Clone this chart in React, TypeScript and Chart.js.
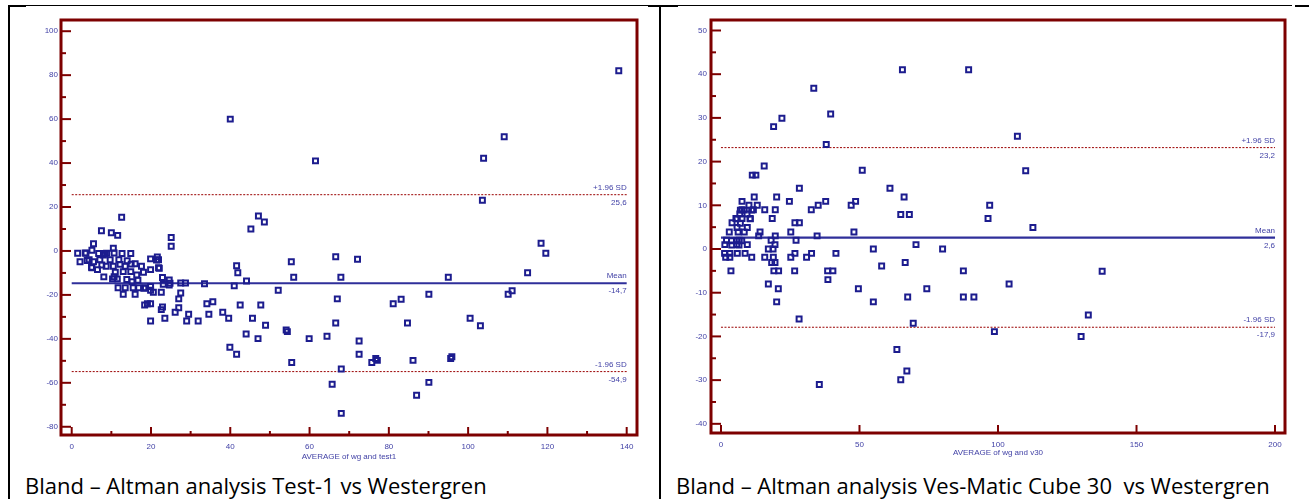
import React, { useEffect, useRef } from "react";
import { Chart, registerables } from "chart.js";

Chart.register(...registerables);

// ---------- DATA: Test-1 vs Westergren (average, difference) ----------
const LEFT_POINTS: number[][] = [
  [40, 60], [61.5, 41], [138, 82], [109.1, 52], [103.9, 42.2], [103.6, 23.1], [118.4, 3.5],
  [119.6, -1.0], [115, -9.9], [110.1, -19.7], [111.1, -18.1], [100.5, -30.6], [103.1, -34.0],
  [95, -12], [95.6, -48.9], [95.9, -48.1], [90.1, -19.7], [90.1, -59.8], [87, -65.7], [86.1, -49.8],
  [84.7, -32.8], [83.1, -22.0], [81.1, -24.0], [77.1, -49.8], [76.7, -48.9], [75.7, -50.8],
  [72.5, -47.0], [72.5, -41.0], [72.1, -3.8], [68.0, -73.9], [68.0, -53.7], [67.9, -12.0],
  [67.0, -21.8], [66.6, -32.8], [66.6, -2.6], [65.7, -60.7], [64.4, -38.8], [59.9, -39.9],
  [56.0, -12.0], [55.4, -4.9], [55.5, -50.8], [54.1, -36.0], [54.4, -36.7], [52.1, -17.9],
  [48.9, -33.8], [47.7, -24.6], [47.0, -39.9], [47.1, 15.9], [48.6, 13.2], [45.2, 10.0],
  [45.6, -30.6], [44.1, -13.7], [44.0, -37.8], [42.5, -24.6], [41.9, -9.9], [41.6, -6.7],
  [41.0, -15.9], [41.6, -47.0], [39.9, -43.8], [39.6, -30.6], [38.1, -27.9], [35.6, -23.1],
  [34.6, -28.8], [34.1, -24.0], [33.5, -14.9], [31.9, -31.9], [29.5, -28.8], [29.0, -31.9],
  [28.7, -14.6], [27.5, -14.6], [27.5, -19.1], [27.0, -21.8], [27.0, -25.8], [26.1, -27.9],
  [25.1, 6.1], [25.1, 2.1], [24.8, -14.7], [24.6, -13.2], [24.6, -15.5], [23.5, -30.6],
  [23.1, -15.2], [22.9, -12.1], [22.9, -25.5], [22.6, -26.7], [22.6, -18.8], [22.1, -7.9],
  [21.9, -4.0], [21.6, -2.7], [21.9, -7.6], [21.4, -4.1], [20.6, -18.8], [19.9, -31.9],
  [19.9, -24.0], [19.1, -24.0], [18.4, -24.6], [19.9, -17.9], [19.9, -3.6], [19.9, -8.5],
  [19.9, -16.2], [18.6, -16.7], [18.2, -17.0], [18.1, -9.7], [17.6, -7.0], [16.9, -16.7],
  [16.7, -13.3], [16.4, -10.9], [16.0, -5.8], [16.0, -19.7], [15.5, -16.7], [15.2, -14.0],
  [14.9, -9.4], [14.9, -1.2], [13.9, -13.0], [13.5, -16.7], [13.5, -7.0], [13.0, -9.4],
  [13.0, -19.7], [12.7, -1.2], [12.6, 15.3], [12.2, -6.1], [11.9, -4.0], [11.7, -16.7],
  [11.6, 7.1], [11.5, -12.7], [11.0, -9.7], [10.7, -0.9], [10.7, -11.7], [10.5, 1.2],
  [10.5, -7.0], [10.3, -12.7], [10.0, 8.3], [9.7, -4.0], [8.8, -1.0], [8.7, -7.0],
  [8.3, -1.2], [8.1, -11.8], [8.0, -1.8], [7.6, -6.4], [7.5, 9.2], [7.1, -4.0], [6.8, -1.2],
  [6.5, -8.5], [5.5, -4.9], [5.5, 3.3], [5.1, 0.3], [5.1, -7.6], [5.0, -7.4], [4.4, -4.0],
  [3.9, -4.3], [3.6, -1.0], [3.4, -0.9], [2.1, -4.9], [1.5, -1.0], [14.0, -4.5], [15.0, -6.0],
];
const LEFT_X_TICKS = [0, 20, 40, 60, 80, 100, 120, 140];
const LEFT_X_MINOR = [10, 30, 50, 70, 90, 110, 130];
const LEFT_Y_TICKS = [-80, -60, -40, -20, 0, 20, 40, 60, 80, 100];
const LEFT_Y_MINOR = [-70, -50, -30, -10, 10, 30, 50, 70, 90];
const LEFT_STATS = [-14.7, 25.6, -54.9]; // mean, +1.96 SD, -1.96 SD

// ---------- DATA: Ves-Matic Cube 30 vs Westergren ----------
const RIGHT_POINTS: number[][] = [
  [65.5, 41], [89.4, 41], [33.5, 36.8], [39.6, 30.9], [22.0, 29.9], [19.0, 28.0], [38.0, 23.9],
  [107.0, 25.8], [110.0, 17.9], [15.6, 19.0], [11.3, 16.9], [12.6, 16.9], [51.0, 18.0],
  [28.3, 13.9], [61.0, 13.9], [66.1, 11.9], [12.0, 11.9], [20.1, 11.9], [7.6, 10.9], [24.7, 10.9],
  [37.8, 10.9], [47.0, 10.0], [48.6, 10.9], [10.1, 10.0], [13.1, 10.0], [32.6, 9.0], [35.1, 10.0],
  [15.8, 9.0], [19.6, 9.0], [11.7, 9.0], [7.6, 9.0], [7.0, 8.9], [8.4, 8.9], [11.1, 8.9],
  [6.8, 8.0], [9.4, 8.0], [64.9, 7.9], [68.0, 7.9], [97.0, 10.0], [96.4, 7.0], [18.5, 7.0],
  [10.5, 7.0], [7.6, 7.0], [5.4, 7.0], [5.8, 6.9], [10.6, 6.9], [4.0, 6.0], [7.0, 5.9],
  [26.7, 6.0], [28.3, 6.0], [9.5, 4.9], [5.8, 4.9], [112.6, 4.9], [3.0, 3.9], [6.2, 3.9],
  [8.4, 3.9], [14.1, 3.9], [25.2, 3.9], [48.0, 3.9], [13.6, 3.0], [19.6, 3.0], [34.7, 3.0],
  [2.0, 2.0], [6.6, 2.0], [18.1, 2.0], [27.1, 2.0], [3.8, 1.9], [5.8, 1.9], [7.5, 1.9],
  [70.4, 1.0], [1.4, 1.0], [5.7, 1.0], [9.5, 1.0], [19.5, 1.0], [3.9, 0.9], [6.5, 0.9],
  [17.1, 0.0], [55.0, 0.0], [80.0, 0.0], [18.8, 0.0], [1.3, -1.0], [3.2, -1.0], [5.9, -1.0],
  [8.7, -1.0], [26.7, -1.0], [32.7, -1.0], [41.5, -1.0], [1.7, -1.9], [3.2, -1.9], [11.1, -1.9],
  [15.8, -1.9], [18.9, -1.9], [25.2, -1.9], [30.9, -1.9], [18.3, -3.1], [19.5, -3.1],
  [19.1, -5.0], [20.8, -5.0], [3.6, -5.0], [26.6, -5.0], [38.5, -5.0], [40.4, -5.0], [38.6, -7.0],
  [17.1, -8.0], [20.7, -9.1], [20.1, -12.1], [28.2, -16.0], [35.5, -31.0], [58.0, -3.9],
  [49.6, -9.1], [55.0, -12.1], [66.5, -3.1], [67.4, -11.0], [69.4, -17.0], [63.5, -23.0],
  [64.9, -29.9], [67.1, -27.9], [74.3, -9.1], [87.5, -5.0], [87.5, -11.0], [91.3, -11.0],
  [104.0, -8.0], [137.6, -5.1], [132.6, -15.1], [130.0, -20.0], [98.7, -18.9],
];
const RIGHT_X_TICKS = [0, 50, 100, 150, 200];
const RIGHT_X_MINOR: number[] = [];
const RIGHT_Y_TICKS = [-40, -30, -20, -10, 0, 10, 20, 30, 40, 50];
const RIGHT_Y_MINOR = [-35, -25, -15, -5, 5, 15, 25, 35, 45];
const RIGHT_STATS = [2.6, 23.2, -17.9]; // mean, +1.96 SD, -1.96 SD

// ---------- STYLE ----------
const TICK_COLOR = "#4242a6";
const FRAME_COLOR = "#7d0000";
const POINT_COLOR = "#1c1c8e";
const MEAN_COLOR = "#2f2f9a";
const SD_COLOR = "#9a0000";
const SMALL_FONT = "'Liberation Sans', Arial, sans-serif";

type Spec = {
  points: number[][];
  xMin: number; xMax: number; yMin: number; yMax: number;
  xTicks: number[]; xMinor: number[]; yTicks: number[]; yMinor: number[];
  stats: number[];
  lineEnd: number;
  xTitle: string;
  yAxisWidth: number; xAxisHeight: number; padRight: number; padTop: number;
  titlePadBottom: number; yLabelPad: number; xLabelPad: number;
};

const fmt = (v: number) => String(v).replace(".", ",");

const decorPlugin = {
  id: "baDecor",
  afterDraw(chart: any, _args: any, opts: any) {
    const spec: Spec = opts.spec;
    const { ctx, chartArea: a, scales } = chart;
    const xs = scales.x;
    const ys = scales.y;
    ctx.save();
    // ticks (inward)
    ctx.strokeStyle = FRAME_COLOR;
    ctx.lineWidth = 2;
    const hline = (x0: number, x1: number, y: number) => {
      ctx.beginPath(); ctx.moveTo(x0, y); ctx.lineTo(x1, y); ctx.stroke();
    };
    const vline = (x: number, y0: number, y1: number) => {
      ctx.beginPath(); ctx.moveTo(x, y0); ctx.lineTo(x, y1); ctx.stroke();
    };
    spec.yTicks.forEach((v) => hline(a.left, a.left + 10, ys.getPixelForValue(v)));
    spec.yMinor.forEach((v) => hline(a.left, a.left + 5, ys.getPixelForValue(v)));
    spec.xTicks.forEach((v) => vline(xs.getPixelForValue(v), a.bottom, a.bottom - 8));
    spec.xMinor.forEach((v) => vline(xs.getPixelForValue(v), a.bottom, a.bottom - 4));
    // frame
    ctx.lineWidth = 3;
    ctx.strokeRect(a.left, a.top, a.right - a.left, a.bottom - a.top);
    // line labels
    ctx.font = `8px ${SMALL_FONT}`;
    ctx.fillStyle = TICK_COLOR;
    ctx.textAlign = "right";
    ctx.textBaseline = "middle";
    const xr = xs.getPixelForValue(spec.lineEnd);
    const [mean, up, lo] = spec.stats;
    const items: [number, string, string][] = [
      [mean, "Mean", fmt(mean)],
      [up, "+1.96 SD", fmt(up)],
      [lo, "-1.96 SD", fmt(lo)],
    ];
    items.forEach(([v, t, b]) => {
      const y = ys.getPixelForValue(v);
      ctx.fillText(t, xr, y - 7);
      ctx.fillText(b, xr, y + 8);
    });
    ctx.restore();
  },
};

function makeConfig(spec: Spec): any {
  const [mean, up, lo] = spec.stats;
  const line = (v: number, color: string, width: number, dash: number[]) => ({
    data: [{ x: 0, y: v }, { x: spec.lineEnd, y: v }],
    showLine: true,
    borderColor: color,
    borderWidth: width,
    borderDash: dash,
    pointRadius: 0,
    pointHoverRadius: 0,
    fill: false,
  });
  return {
    type: "scatter",
    data: {
      datasets: [
        {
          data: spec.points.map(([x, y]) => ({ x, y })),
          pointStyle: "rect",
          pointRadius: 3.5,
          pointHoverRadius: 3.5,
          borderWidth: 2,
          borderColor: POINT_COLOR,
          backgroundColor: "rgba(0,0,0,0)",
        },
        line(mean, MEAN_COLOR, 2.2, []),
        line(up, SD_COLOR, 1, [2, 1.5]),
        line(lo, SD_COLOR, 1, [2, 1.5]),
      ],
    },
    options: {
      animation: false,
      responsive: false,
      maintainAspectRatio: false,
      devicePixelRatio: 1,
      events: [],
      layout: { padding: { left: 0, top: spec.padTop, right: spec.padRight, bottom: 0 } },
      plugins: {
        legend: { display: false },
        tooltip: { enabled: false },
        baDecor: { spec },
      },
      scales: {
        x: {
          type: "linear",
          min: spec.xMin,
          max: spec.xMax,
          grid: { display: false, drawTicks: false },
          border: { display: false },
          afterBuildTicks: (s: any) => { s.ticks = spec.xTicks.map((v) => ({ value: v })); },
          afterFit: (s: any) => { s.height = spec.xAxisHeight; s.paddingLeft = 0; s.paddingRight = 0; },
          ticks: {
            autoSkip: false,
            maxRotation: 0,
            padding: spec.xLabelPad,
            color: TICK_COLOR,
            font: { family: SMALL_FONT, size: 8 },
            callback: (v: any) => String(v),
          },
          title: {
            display: true,
            text: spec.xTitle,
            color: TICK_COLOR,
            font: { family: SMALL_FONT, size: 8 },
            padding: { top: 0, bottom: spec.titlePadBottom },
          },
        },
        y: {
          type: "linear",
          min: spec.yMin,
          max: spec.yMax,
          grid: { display: false, drawTicks: false },
          border: { display: false },
          afterBuildTicks: (s: any) => { s.ticks = spec.yTicks.map((v) => ({ value: v })); },
          afterFit: (s: any) => { s.width = spec.yAxisWidth; s.paddingTop = 0; s.paddingBottom = 0; },
          ticks: {
            autoSkip: false,
            padding: spec.yLabelPad,
            color: TICK_COLOR,
            font: { family: SMALL_FONT, size: 8 },
            callback: (v: any) => String(v),
          },
        },
      },
    },
    plugins: [decorPlugin],
  };
}

const LEFT_SPEC: Spec = {
  points: LEFT_POINTS,
  xMin: -2.7, xMax: 142.6, yMin: -83.75, yMax: 105.1,
  xTicks: LEFT_X_TICKS, xMinor: LEFT_X_MINOR, yTicks: LEFT_Y_TICKS, yMinor: LEFT_Y_MINOR,
  stats: LEFT_STATS,
  lineEnd: 140,
  xTitle: "AVERAGE of wg and test1",
  yAxisWidth: 61, xAxisHeight: 35, padRight: 18, padTop: 20,
  titlePadBottom: 8, yLabelPad: 3, xLabelPad: 7,
};

const RIGHT_SPEC: Spec = {
  points: RIGHT_POINTS,
  xMin: -3.6, xMax: 203.6, yMin: -42.1, yMax: 52.4,
  xTicks: RIGHT_X_TICKS, xMinor: RIGHT_X_MINOR, yTicks: RIGHT_Y_TICKS, yMinor: RIGHT_Y_MINOR,
  stats: RIGHT_STATS,
  lineEnd: 200,
  xTitle: "AVERAGE of wg and v30",
  yAxisWidth: 49, xAxisHeight: 37, padRight: 24, padTop: 20,
  titlePadBottom: 12, yLabelPad: 4, xLabelPad: 7,
};

function Panel({ spec, left, width, height }: { spec: Spec; left: number; width: number; height: number }) {
  const ref = useRef<HTMLCanvasElement | null>(null);
  useEffect(() => {
    if (!ref.current) return;
    const chart = new Chart(ref.current, makeConfig(spec));
    return () => chart.destroy();
  }, [spec]);
  return (
    <canvas
      ref={ref}
      width={width}
      height={height}
      style={{ position: "absolute", left, top: 0, width, height }}
    />
  );
}

const box = (left: number, top: number, width: number, height: number) => (
  <div style={{ position: "absolute", left, top, width, height, background: "#000" }} />
);

const captionStyle = (left: number): React.CSSProperties => ({
  position: "absolute",
  left,
  top: 470,
  fontFamily: "'Open Sans', 'Noto Sans', sans-serif",
  fontSize: 22,
  lineHeight: "30px",
  color: "#000",
  whiteSpace: "pre",
});

export default function App() {
  return (
    <div
      style={{
        position: "absolute",
        left: 0,
        top: 0,
        width: 1309,
        height: 499,
        overflow: "hidden",
        background: "#fff",
      }}
    >
      {box(8, 5, 1284, 1)}
      {box(8, 5, 18, 2)}
      {box(648, 5, 30, 2)}
      {box(1295, 5, 14, 2)}
      {box(8, 5, 2, 494)}
      {box(659, 5, 2, 494)}
      <Panel spec={LEFT_SPEC} left={0} width={655} height={470} />
      <Panel spec={RIGHT_SPEC} left={662} width={647} height={470} />
      <div style={captionStyle(25)}>Bland – Altman analysis Test-1 vs Westergren</div>
      <div style={captionStyle(676)}>{"Bland – Altman analysis Ves-Matic Cube 30  vs Westergren"}</div>
    </div>
  );
}
